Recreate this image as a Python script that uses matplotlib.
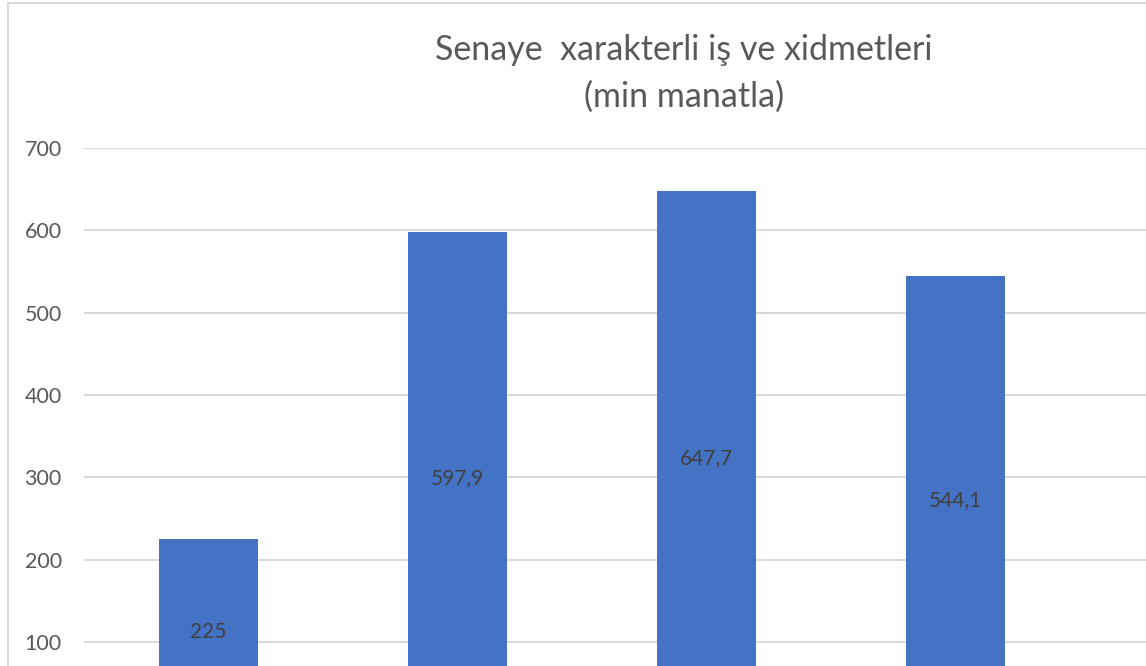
import matplotlib.pyplot as plt
from matplotlib.patches import Rectangle

# values (last category is cut off at the right edge)
categories = ["1", "2", "3", "4", "5"]
values = [225, 597.9, 647.7, 544.1]
value_labels = ["225", "597,9", "647,7", "544,1"]
yticks = [100, 200, 300, 400, 500, 600, 700]

W, H = 1146, 666
plt.rcParams["font.family"] = ["Lato", "DejaVu Sans"]
fig = plt.figure(figsize=(W / 100, H / 100), dpi=100)

# chart area border (cropped on the right and bottom)
fig.patches.append(Rectangle((8 / W, -0.1), 1.2, (H - 3) / H + 0.1,
                             transform=fig.transFigure, fill=False,
                             edgecolor="#d9d9d9", lw=1.5))

# plot area runs past the bottom/right edges of the picture
left, right = 84, 84 + 5 * 249
top, bottom = 148, 724.3
ax = fig.add_axes([left / W, (H - bottom) / H, (right - left) / W, (bottom - top) / H])

x = list(range(len(values)))
bars = ax.bar(x, values, width=0.4, color="#4472C4", zorder=3)
for b, lab in zip(bars, value_labels):
    ax.text(b.get_x() + b.get_width() / 2, b.get_height() / 2, lab,
            ha="center", va="center", fontsize=15, color="#404040", zorder=4)

ax.set_xlim(-0.5, len(categories) - 0.5)
ax.set_ylim(0, 700)
ax.set_yticks(yticks)
ax.set_xticks([])
ax.yaxis.grid(True, color="#d9d9d9", lw=1.5, zorder=0)
ax.tick_params(axis="y", length=0, pad=16, labelsize=15.5, labelcolor="#595959")
for s in ax.spines.values():
    s.set_visible(False)

fig.text(684 / W, 1 - 50 / H, "Senaye  xarakterli iş ve xidmetleri",
         ha="center", va="center", fontsize=24.5, color="#595959")
fig.text(684 / W, 1 - 97 / H, "(min manatla)",
         ha="center", va="center", fontsize=24.5, color="#595959")

fig.savefig("out.png", dpi=100)
